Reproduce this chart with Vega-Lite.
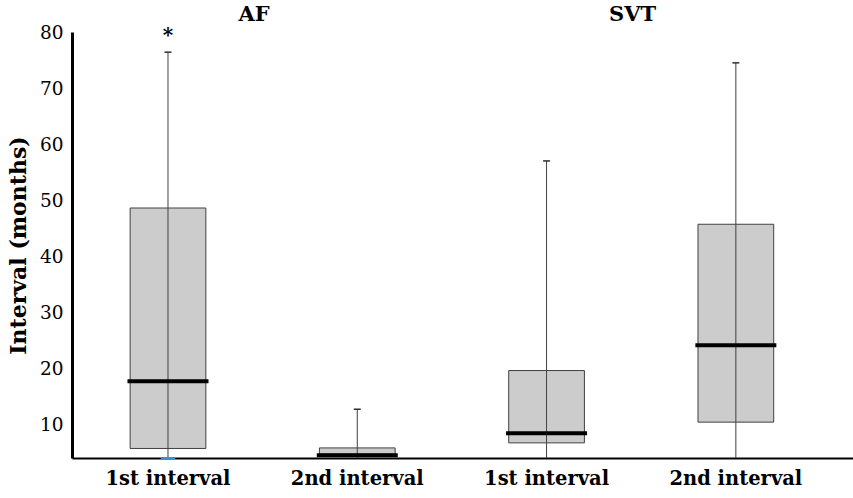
{
  "$schema": "https://vega.github.io/schema/vega-lite/v6.json",
  "width": 781,
  "height": 426,
  "autosize": {"type": "none"},
  "padding": {"left": 72, "top": 32, "right": 0, "bottom": 40},
  "background": "white",
  "config": {"view": {"stroke": null}, "font": "DejaVu Serif"},
  "datasets": {
    "boxes": [
      {"cat": "AF · 1st interval", "group": "AF", "min": 4, "q1": 5.7, "median": 17.7, "q3": 48.6, "max": 76.4},
      {"cat": "AF · 2nd interval", "group": "AF", "min": 4, "q1": 4.7, "median": 4.5, "q3": 5.8, "max": 12.7},
      {"cat": "SVT · 1st interval", "group": "SVT", "min": 4, "q1": 6.7, "median": 8.4, "q3": 19.6, "max": 57},
      {"cat": "SVT · 2nd interval", "group": "SVT", "min": 4, "q1": 10.4, "median": 24.1, "q3": 45.7, "max": 74.5}
    ],
    "groups": [
      {"cat": "AF · 1st interval", "label": "AF"},
      {"cat": "SVT · 1st interval", "label": "SVT"}
    ]
  },
  "data": {"name": "boxes"},
  "encoding": {
    "x": {
      "field": "cat",
      "type": "nominal",
      "sort": null,
      "scale": {"paddingInner": 0.6, "paddingOuter": 0.363, "align": 0.423},
      "axis": {
        "title": null,
        "labelExpr": "split(datum.label, ' · ')[1]",
        "labelAngle": 0,
        "labelFont": "DejaVu Serif",
        "labelFontWeight": "bold",
        "labelFontSize": 19.5,
        "labelColor": "black",
        "labelPadding": 11,
        "ticks": false,
        "domainColor": "black",
        "domainWidth": 2,
        "grid": false
      }
    }
  },
  "layer": [
    {
      "mark": {"type": "bar", "fill": "#cccccc", "stroke": "#404040", "strokeWidth": 1, "opacity": 1},
      "encoding": {
        "y": {
          "field": "q1",
          "type": "quantitative",
          "scale": {"domain": [4, 80], "nice": false, "zero": false},
          "axis": {
            "title": "Interval (months)",
            "titleFont": "DejaVu Serif",
            "titleFontWeight": "bold",
            "titleFontSize": 22,
            "titleColor": "black",
            "titlePadding": 9,
            "values": [10, 20, 30, 40, 50, 60, 70, 80],
            "labelFont": "DejaVu Serif",
            "labelFontSize": 18.5,
            "labelColor": "black",
            "labelPadding": 9,
            "ticks": false,
            "grid": false,
            "domainColor": "black",
            "domainWidth": 3
          }
        },
        "y2": {"field": "q3"}
      }
    },
    {
      "mark": {"type": "rule", "color": "#404040", "strokeWidth": 1},
      "encoding": {
        "y": {"field": "min", "type": "quantitative"},
        "y2": {"field": "max"}
      }
    },
    {
      "mark": {"type": "tick", "color": "#303030", "size": 7, "thickness": 1.5, "opacity": 1},
      "encoding": {"y": {"field": "max", "type": "quantitative"}}
    },
    {
      "transform": [{"filter": "datum.cat == 'AF · 1st interval'"}],
      "mark": {"type": "tick", "color": "#3d8fd1", "size": 14, "thickness": 2, "opacity": 1},
      "encoding": {"y": {"field": "min", "type": "quantitative"}}
    },
    {
      "mark": {"type": "tick", "color": "black", "size": 81, "thickness": 4, "opacity": 1},
      "encoding": {"y": {"field": "median", "type": "quantitative"}}
    },
    {
      "transform": [{"filter": "datum.cat == 'AF · 1st interval'"}],
      "mark": {"type": "text", "text": "*", "font": "DejaVu Serif", "fontSize": 20, "fontWeight": "bold", "baseline": "middle", "color": "black"},
      "encoding": {"y": {"datum": 79.2, "type": "quantitative"}}
    },
    {
      "data": {"name": "groups"},
      "mark": {"type": "text", "font": "DejaVu Serif", "fontSize": 21, "fontWeight": "bold", "baseline": "middle", "color": "black", "dx": 86},
      "encoding": {
        "text": {"field": "label"},
        "y": {"datum": 83.1, "type": "quantitative"}
      }
    }
  ]
}
